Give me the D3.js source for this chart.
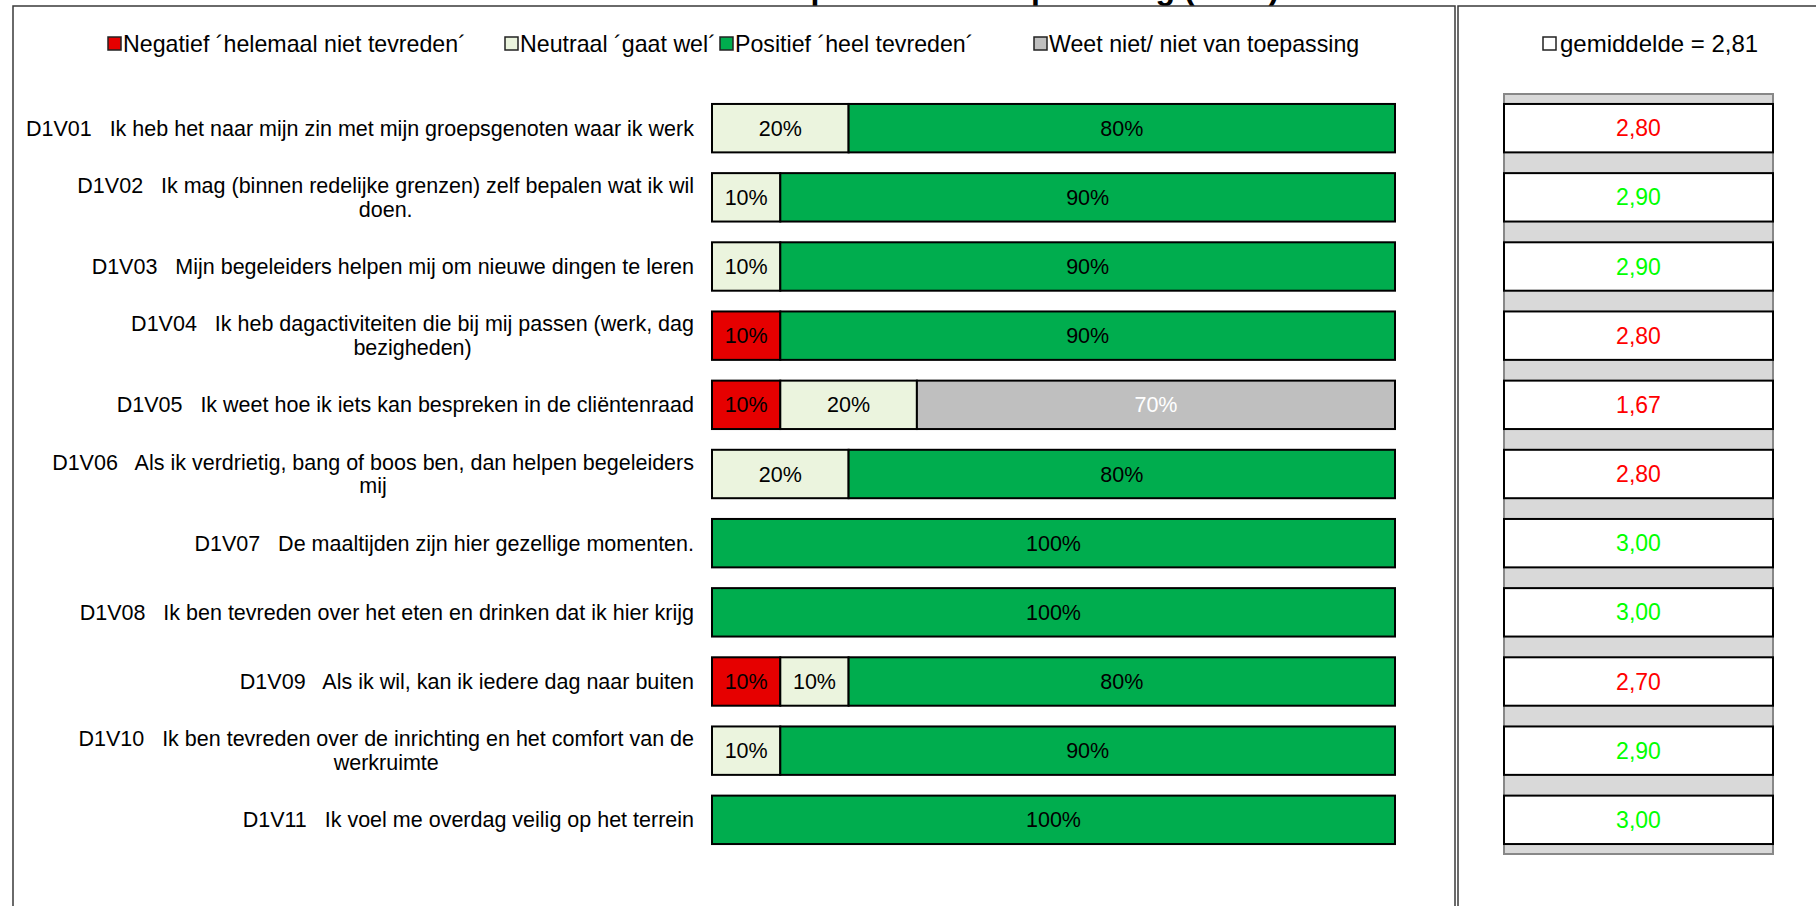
<!DOCTYPE html>
<html>
<head>
<meta charset="utf-8">
<script src="https://cdn.jsdelivr.net/npm/d3@7"></script>
<style>
  html, body { margin: 0; padding: 0; background: #ffffff; overflow: hidden; }
  svg { display: block; font-family: Arial, "Liberation Sans", sans-serif; }
</style>
</head>
<body>
<svg id="chart" width="1816" height="906"></svg>
<script>
// ---------- data ----------
const titleText = "Resultaten per onderdeel per vraag (n=10)";
const codes = ["D1V01","D1V02","D1V03","D1V04","D1V05","D1V06","D1V07","D1V08","D1V09","D1V10","D1V11"];
const questions = [
  "Ik heb het naar mijn zin met mijn groepsgenoten waar ik werk",
  "Ik mag (binnen redelijke grenzen) zelf bepalen wat ik wil\ndoen.",
  "Mijn begeleiders helpen mij om nieuwe dingen te leren",
  "Ik heb dagactiviteiten die bij mij passen (werk, dag\nbezigheden)",
  "Ik weet hoe ik iets kan bespreken in de cliëntenraad",
  "Als ik verdrietig, bang of boos ben, dan helpen begeleiders\nmij",
  "De maaltijden zijn hier gezellige momenten.",
  "Ik ben tevreden over het eten en drinken dat ik hier krijg",
  "Als ik wil, kan ik iedere dag naar buiten",
  "Ik ben tevreden over de inrichting en het comfort van de\nwerkruimte",
  "Ik voel me overdag veilig op het terrein"
];
const seriesKeys = ["negatief","neutraal","positief","weetNiet"];
const seriesLabels = ["Negatief \u00b4helemaal niet tevreden\u00b4","Neutraal \u00b4gaat wel\u00b4","Positief \u00b4heel tevreden\u00b4","Weet niet/ niet van toepassing"];
const negatief = [0,0,0,10,10,0,0,0,10,0,0];
const neutraal = [20,10,10,0,20,20,0,0,10,10,0];
const positief = [80,90,90,90,0,80,100,100,80,90,100];
const weetNiet = [0,0,0,0,70,0,0,0,0,0,0];
const gemiddelden = [2.80,2.90,2.90,2.80,1.67,2.80,3.00,3.00,2.70,2.90,3.00];
const gemiddeldeTotaal = 2.81;
const gemiddeldeLabel = "gemiddelde";

// ---------- styling ----------
const colors = { negatief: "#e60000", neutraal: "#ebf4de", positief: "#00ad4e", weetNiet: "#bfbfbf" };
const labelColors = { negatief: "#000", neutraal: "#000", positief: "#000", weetNiet: "#ffffff" };
const frameColor = "#3a3a3a";
const fmtComma = v => v.toFixed(2).replace(".", ",");

const svg = d3.select("#chart");

// table built from arrays
const rows = codes.map((c, i) => ({
  code: c, question: questions[i],
  negatief: negatief[i], neutraal: neutraal[i], positief: positief[i], weetNiet: weetNiet[i],
  mean: gemiddelden[i]
}));

// ---------- scales ----------
const y = d3.scaleBand().domain(codes).range([94, 854]).paddingInner(0.3).paddingOuter(0.144);
const x = d3.scaleLinear().domain([0, 100]).range([712, 1395]);

// ---------- frames ----------
svg.append("text")
  .attr("x", 638).attr("y", -1)
  .attr("font-size", 32).attr("font-weight", "bold")
  .attr("fill", "#000")
  .text(titleText);

const frames = svg.append("g").attr("fill", "none").attr("stroke", frameColor).attr("stroke-width", 1.5);
frames.append("rect").attr("x", 13).attr("y", 6).attr("width", 1455 - 13).attr("height", 950);
frames.append("rect").attr("x", 1458).attr("y", 6).attr("width", 500).attr("height", 950);

// ---------- legend (left) ----------
const legendX = [108, 505, 720, 1034];
const legend = svg.append("g").attr("class", "legend");
seriesKeys.forEach((k, i) => {
  const g = legend.append("g").attr("transform", `translate(${legendX[i]},44)`);
  g.append("rect").attr("x", 0).attr("y", -7).attr("width", 13).attr("height", 13)
    .attr("fill", colors[k]).attr("stroke", "#222").attr("stroke-width", 1.5);
  g.append("text").attr("x", 15).attr("y", 0).attr("dy", "0.35em")
    .attr("font-size", 23.2).attr("fill", "#000").text(seriesLabels[i]);
});

// ---------- category labels ----------
const labelRight = 694;
const lineH = 23.5;
const labelG = svg.append("g").attr("font-size", 21.5).attr("fill", "#000");
rows.forEach(r => {
  const lines = (r.code + "\u00a0\u00a0 " + r.question).split("\n");
  const t = labelG.append("text").attr("text-anchor", "middle");
  const cy = y(r.code) + y.bandwidth() / 2;
  lines.forEach((ln, j) => {
    t.append("tspan")
      .attr("y", cy + (j - (lines.length - 1) / 2) * lineH)
      .attr("dy", "0.35em")
      .text(ln);
  });
  const spans = t.selectAll("tspan").nodes();
  const w = d3.max(spans, s => s.getComputedTextLength());
  t.selectAll("tspan").attr("x", labelRight - w / 2);
});

// ---------- stacked bars ----------
const stack = d3.stack().keys(seriesKeys);
const stacked = stack(rows);
const barG = svg.append("g");
stacked.forEach(layer => {
  const key = layer.key;
  layer.forEach(d => {
    const v = d[1] - d[0];
    if (v <= 0) return;
    const code = d.data.code;
    barG.append("rect")
      .attr("x", x(d[0])).attr("y", y(code))
      .attr("width", x(d[1]) - x(d[0])).attr("height", y.bandwidth())
      .attr("fill", colors[key]).attr("stroke", "#000").attr("stroke-width", 2);
    barG.append("text")
      .attr("x", (x(d[0]) + x(d[1])) / 2)
      .attr("y", y(code) + y.bandwidth() / 2).attr("dy", "0.35em")
      .attr("text-anchor", "middle").attr("font-size", 21.5)
      .attr("fill", labelColors[key])
      .text(Math.round(v) + "%");
  });
});

// ---------- right panel ----------
const rx0 = 1504, rx1 = 1773;
const rg = svg.append("g");
rg.append("rect").attr("x", rx0).attr("y", y.range()[0]).attr("width", rx1 - rx0)
  .attr("height", y.range()[1] - y.range()[0])
  .attr("fill", "#d9d9d9").attr("stroke", "#888").attr("stroke-width", 2);
rows.forEach(r => {
  rg.append("rect").attr("x", rx0).attr("y", y(r.code)).attr("width", rx1 - rx0)
    .attr("height", y.bandwidth()).attr("fill", "#fff").attr("stroke", "#000").attr("stroke-width", 2);
  rg.append("text").attr("x", (rx0 + rx1) / 2).attr("y", y(r.code) + y.bandwidth() / 2)
    .attr("dy", "0.35em").attr("text-anchor", "middle").attr("font-size", 23)
    .attr("fill", r.mean >= gemiddeldeTotaal ? "#00ff00" : "#ff0000")
    .text(fmtComma(r.mean));
});
const rl = svg.append("g").attr("transform", "translate(1543,44)");
rl.append("rect").attr("x", 0).attr("y", -7).attr("width", 13).attr("height", 13)
  .attr("fill", "#fff").attr("stroke", "#222").attr("stroke-width", 1.5);
rl.append("text").attr("x", 17).attr("y", 0).attr("dy", "0.35em").attr("font-size", 24)
  .attr("fill", "#000").text(gemiddeldeLabel + " = " + fmtComma(gemiddeldeTotaal));
</script>
</body>
</html>
